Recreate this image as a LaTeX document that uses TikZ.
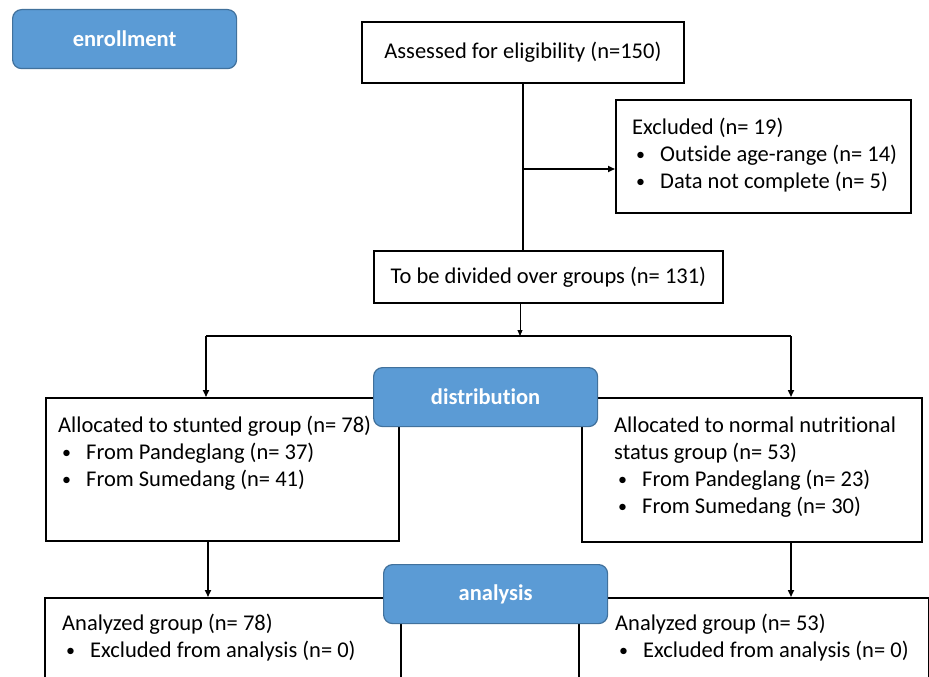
\documentclass[tikz,border=0pt]{standalone}
\usepackage{fontspec}
\setmainfont{Carlito}[Ligatures={NoCommon}]
\usetikzlibrary{arrows.meta,calc}
\definecolor{phase}{HTML}{5B9BD5}
\definecolor{phaseedge}{HTML}{41719C}
\newcommand{\bitem}{\makebox[28pt][l]{\hspace{4pt}\raisebox{0.5pt}{\scalebox{0.8}{\textbullet}}}}
\tikzset{
  box/.style={draw=black, line width=1.8pt, rectangle, inner sep=0pt, anchor=north west},
  phasebox/.style={draw=phaseedge, line width=1.2pt, fill=phase, rounded corners=9pt,
    minimum width=224pt, minimum height=59pt, anchor=north west, text=white,
    font=\fontsize{22.5}{27}\selectfont\bfseries, inner sep=0pt},
  txt/.style={anchor=base west, inner sep=0pt, align=left, font=\fontsize{22.5}{27}\selectfont},
  conn/.style={line width=1.6pt},
  arr/.style={line width=1.6pt, -{Triangle[length=7pt,width=6pt]}},
  thinarr/.style={line width=0.9pt, -{Triangle[length=6pt,width=5pt]}}
}
\begin{document}
\begin{tikzpicture}[x=1pt,y=-1pt]
\useasboundingbox (0,0) rectangle (929,677);
\clip (0,0) rectangle (929,677);
\fill[white] (0,0) rectangle (929,677);

% boxes
\node[box, minimum width=322pt, minimum height=61pt, font=\fontsize{22.5}{27}\selectfont] (assess) at (361,21) {\raisebox{4pt}{Assessed for eligibility (n=150)}};
\node[box, minimum width=295pt, minimum height=113pt] (excl) at (615,99) {};
\node[box, minimum width=349pt, minimum height=52pt, font=\fontsize{22.5}{27}\selectfont] (divide) at (373,250) {\raisebox{1pt}{To be divided over groups (n= 131)}};
\node[box, minimum width=353pt, minimum height=143pt] (allocL) at (45,397) {};
\node[box, minimum width=340pt, minimum height=144pt] (allocR) at (581,397) {};
\node[box, minimum width=356pt, minimum height=120pt] (anaL) at (44,597) {};
\node[box, minimum width=350pt, minimum height=120pt] (anaR) at (578,597) {};

% texts
\node[txt] (exclT) at (632,134) {\begin{tabular}[t]{@{}l@{}}Excluded (n= 19)\\ \bitem Outside age-range (n= 14)\\ \bitem Data not complete (n= 5)\end{tabular}};
\node[txt] (allocLT) at (58,432) {\begin{tabular}[t]{@{}l@{}}Allocated to stunted group (n= 78)\\ \bitem From Pandeglang (n= 37)\\ \bitem From Sumedang (n= 41)\end{tabular}};
\node[txt] (allocRT) at (614,432) {\begin{tabular}[t]{@{}l@{}}Allocated to normal nutritional\\ status group (n= 53)\\ \bitem From Pandeglang (n= 23)\\ \bitem From Sumedang (n= 30)\end{tabular}};
\node[txt] (anaLT) at (62,630) {\begin{tabular}[t]{@{}l@{}}Analyzed group (n= 78)\\ \bitem Excluded from analysis (n= 0)\end{tabular}};
\node[txt] (anaRT) at (615,630) {\begin{tabular}[t]{@{}l@{}}Analyzed group (n= 53)\\ \bitem Excluded from analysis (n= 0)\end{tabular}};

% connectors
\coordinate (b1) at (522,169);
\draw[conn] (assess.south) -- (assess.south |- divide.north);
\draw[arr] (b1) -- (b1 -| excl.west);
\coordinate (split) at (520,336);
\coordinate (L) at (206,336);
\coordinate (R) at (791,336);
\draw[thinarr] (split |- divide.south) -- (split);
\draw[conn] (L) -- (R);
\draw[arr] (L) -- (L |- allocL.north);
\draw[arr] (R) -- (R |- allocR.north);
\coordinate (dL) at (208,540);
\coordinate (dR) at (791,540);
\draw[arr] (dL |- allocL.south) -- (dL |- anaL.north);
\draw[arr] (dR |- allocR.south) -- (dR |- anaR.north);

% phase labels
\node[phasebox] (enroll) at (12,9) {enrollment};
\node[phasebox] (distr) at (373,367) {distribution};
\node[phasebox] (anal) at (383,564) {analysis};
\end{tikzpicture}
\end{document}
